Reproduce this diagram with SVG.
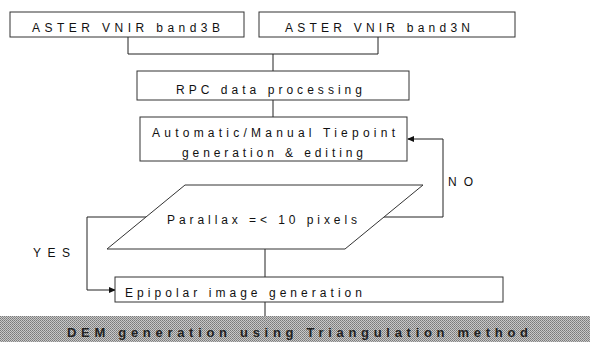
<svg xmlns="http://www.w3.org/2000/svg" width="590" height="342" viewBox="0 0 590 342">
<defs>
<style>
.box{fill:#fff;stroke:#333;stroke-width:1}
.ln{fill:none;stroke:#222;stroke-width:1}
.t{font-family:"Liberation Sans",Arial,sans-serif;font-size:12px;fill:#111}
.dem{font-family:"Liberation Sans",Arial,sans-serif;font-size:13px;font-weight:bold;fill:#222}
</style>
<marker id="ah" markerWidth="7" markerHeight="6" refX="6" refY="3" orient="auto" markerUnits="userSpaceOnUse">
<path d="M0,0 L7,3 L0,6 Z" fill="#111"/>
</marker>
<pattern id="dither" width="2" height="2" patternUnits="userSpaceOnUse">
<rect width="2" height="2" fill="#c8c8c8"/>
<rect width="1" height="1" fill="#7a7a7a"/>
<rect x="1" y="1" width="1" height="1" fill="#8a8a8a"/>
</pattern>
</defs>
<rect width="590" height="342" fill="#fff"/>
<g id="connectors">
<path class="ln" d="M128,37 V54 H378 V37"/>
<path class="ln" d="M273,54 V71"/>
<path class="ln" d="M273,100 V117"/>
<path class="ln" d="M383,217 H443 V139 H408" marker-end="url(#ah)"/>
<path class="ln" d="M150,217 H87 V290 H115" marker-end="url(#ah)"/>
<path class="ln" d="M265,249 V277"/>
<path class="ln" d="M265,302 V316"/>
</g>
<g id="band3B">
<rect class="box" x="10" y="12" width="234" height="25"/>
<text class="t" x="32" y="32" textLength="188" lengthAdjust="spacing">ASTER VNIR band3B</text>
</g>
<g id="band3N">
<rect class="box" x="259" y="12" width="256" height="25"/>
<text class="t" x="285" y="32" textLength="185" lengthAdjust="spacing">ASTER VNIR band3N</text>
</g>
<g id="rpc">
<rect class="box" x="137" y="71" width="272" height="29"/>
<text class="t" x="176" y="94" textLength="186" lengthAdjust="spacing">RPC data processing</text>
</g>
<g id="tiepoint">
<rect class="box" x="140" y="117" width="267" height="44"/>
<text class="t" x="152" y="137" textLength="243" lengthAdjust="spacing">Automatic/Manual Tiepoint</text>
<text class="t" x="182" y="157" textLength="181" lengthAdjust="spacing">generation &amp; editing</text>
</g>
<g id="parallax">
<path class="box" d="M185,185 H423 L345,249 H107 Z"/>
<text class="t" x="167" y="224" textLength="190" lengthAdjust="spacing">Parallax =&lt; 10 pixels</text>
</g>
<g id="labels">
<text class="t" x="448" y="186" textLength="25" lengthAdjust="spacing">NO</text>
<text class="t" x="33" y="257" textLength="37" lengthAdjust="spacing">YES</text>
</g>
<g id="epipolar">
<rect class="box" x="115" y="277" width="388" height="25"/>
<text class="t" x="125" y="297" textLength="237" lengthAdjust="spacing">Epipolar image generation</text>
</g>
<g id="dem">
<rect x="0" y="316" width="590" height="26" fill="url(#dither)"/>
<text class="dem" x="67" y="337" textLength="461" lengthAdjust="spacing">DEM generation using Triangulation method</text>
</g>
</svg>
